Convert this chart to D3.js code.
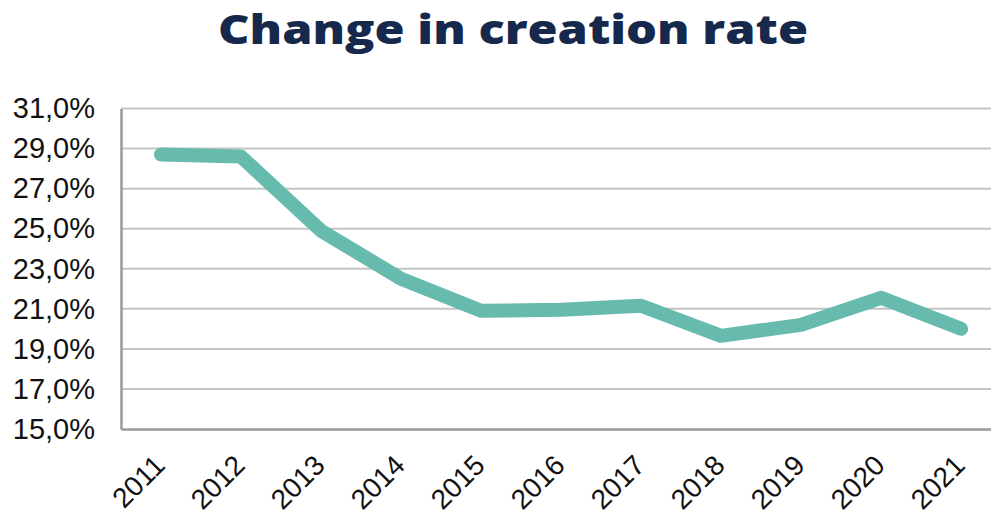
<!DOCTYPE html>
<html>
<head>
<meta charset="utf-8">
<script src="https://cdn.jsdelivr.net/npm/d3@7"></script>
<style>
  html, body { margin: 0; padding: 0; background: #fff; }
  svg { display: block; }
</style>
</head>
<body>
<svg id="chart" width="991" height="516"></svg>
<script>
const title = "Change in creation rate";
const years = ["2011","2012","2013","2014","2015","2016","2017","2018","2019","2020","2021"];
const rates = [28.7, 28.6, 24.9, 22.5, 20.9, 20.95, 21.15, 19.65, 20.2, 21.55, 20.0];
const yTicks = [15, 17, 19, 21, 23, 25, 27, 29, 31];

const svg = d3.select("#chart");
const plot = { left: 121, right: 1001, top: 108.5, bottom: 429 };

const x = d3.scalePoint().domain(years).range([plot.left, plot.right]).padding(0.5);
const y = d3.scaleLinear().domain([15, 31]).range([plot.bottom, plot.top]);

const fmt = v => d3.format(".1f")(v).replace(".", ",") + "%";

// gridlines
svg.append("g")
  .selectAll("line")
  .data(yTicks.filter(t => t !== 15))
  .join("line")
  .attr("x1", plot.left).attr("x2", plot.right)
  .attr("y1", d => y(d)).attr("y2", d => y(d))
  .attr("stroke", "#c4c4c4").attr("stroke-width", 2);

// y axis
const yAxis = svg.append("g")
  .attr("transform", `translate(${plot.left},0)`)
  .call(d3.axisLeft(y).tickValues(yTicks).tickFormat(fmt).tickSize(0).tickPadding(26));
yAxis.select(".domain").attr("stroke", "#9a9a9a").attr("stroke-width", 2.5);
yAxis.selectAll("text")
  .attr("font-family", "Liberation Sans, Arial, sans-serif")
  .attr("font-size", 29).attr("fill", "#111");

// x axis
const xAxis = svg.append("g")
  .attr("transform", `translate(0,${plot.bottom})`)
  .call(d3.axisBottom(x).tickSize(0).tickPadding(0));
xAxis.select(".domain").attr("stroke", "#9a9a9a").attr("stroke-width", 2.5);
xAxis.selectAll(".tick text")
  .attr("font-family", "Liberation Sans, Arial, sans-serif")
  .attr("font-size", 28).attr("fill", "#111")
  .attr("text-anchor", "end")
  .attr("dy", 0).attr("y", 0)
  .attr("transform", "translate(5,38) rotate(-45)");

// line
const line = d3.line().x((d, i) => x(years[i])).y(d => y(d));
svg.append("path")
  .datum(rates)
  .attr("d", line)
  .attr("fill", "none")
  .attr("stroke", "#66bbae")
  .attr("stroke-width", 14)
  .attr("stroke-linecap", "round")
  .attr("stroke-linejoin", "round");

// title
const t = svg.append("text")
  .attr("x", 513).attr("y", 44)
  .attr("text-anchor", "middle")
  .attr("font-family", "Open Sans, Lato, sans-serif")
  .attr("font-weight", 800)
  .attr("font-size", 40)
  .attr("fill", "#16294d")
  .text(title);
t.attr("textLength", 590).attr("lengthAdjust", "spacingAndGlyphs");
</script>
</body>
</html>
